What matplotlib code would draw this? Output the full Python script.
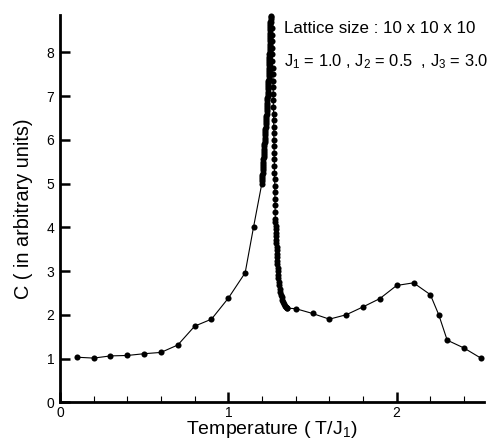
import matplotlib
matplotlib.use('Agg')
import matplotlib.pyplot as plt
from matplotlib.ticker import MultipleLocator

plt.rcParams['font.family'] = ['Liberation Sans', 'DejaVu Sans']
plt.rcParams['mathtext.default'] = 'regular'

# coarse scan below Tc
t_low = [0.1, 0.2, 0.3, 0.4, 0.5, 0.6, 0.7, 0.8, 0.9, 1.0, 1.1, 1.15]
c_low = [1.03, 1.01, 1.06, 1.07, 1.11, 1.14, 1.31, 1.74, 1.90, 2.38, 2.96, 4.01]

# fine scan, rising side of the peak
t_rise = [1.199, 1.200, 1.201, 1.201, 1.202, 1.203, 1.204, 1.205, 1.206, 1.207,
          1.208, 1.208, 1.209, 1.210, 1.211, 1.212, 1.213, 1.213, 1.214, 1.215,
          1.216, 1.217, 1.218, 1.219, 1.220, 1.220, 1.221, 1.222, 1.223, 1.224,
          1.225, 1.226, 1.227, 1.227, 1.228, 1.229, 1.230, 1.231, 1.232, 1.232,
          1.233, 1.234, 1.235, 1.235, 1.236, 1.237, 1.237, 1.238, 1.239, 1.239,
          1.240, 1.240, 1.241, 1.241, 1.242, 1.242, 1.243, 1.243, 1.244, 1.244,
          1.245, 1.245, 1.246, 1.246, 1.247, 1.247, 1.247, 1.248, 1.248, 1.249,
          1.249, 1.249, 1.250, 1.250, 1.250, 1.251, 1.251, 1.253]
c_rise = [5.00, 5.05, 5.10, 5.15, 5.20, 5.25, 5.30, 5.35, 5.40, 5.45,
          5.50, 5.55, 5.60, 5.65, 5.70, 5.75, 5.80, 5.85, 5.90, 5.95,
          6.00, 6.05, 6.10, 6.15, 6.20, 6.25, 6.30, 6.35, 6.40, 6.45,
          6.50, 6.55, 6.60, 6.65, 6.70, 6.75, 6.80, 6.85, 6.90, 6.95,
          7.00, 7.05, 7.10, 7.15, 7.20, 7.25, 7.30, 7.35, 7.40, 7.45,
          7.50, 7.55, 7.60, 7.65, 7.70, 7.75, 7.80, 7.85, 7.90, 7.95,
          8.00, 8.05, 8.10, 8.15, 8.20, 8.25, 8.30, 8.35, 8.40, 8.45,
          8.50, 8.55, 8.60, 8.65, 8.70, 8.75, 8.80, 8.82]

# fine scan, falling side of the peak
t_fall = [1.256, 1.257, 1.258, 1.259, 1.260, 1.261, 1.262, 1.263, 1.264, 1.265,
          1.266, 1.267, 1.267, 1.268, 1.269, 1.269, 1.270, 1.270, 1.271, 1.272,
          1.272, 1.273, 1.274, 1.274, 1.275, 1.276, 1.276, 1.277, 1.278, 1.278,
          1.279, 1.280, 1.281, 1.282, 1.283, 1.284, 1.285, 1.286, 1.287, 1.288,
          1.289, 1.290, 1.291, 1.292, 1.293, 1.294, 1.296, 1.298, 1.300, 1.303,
          1.306, 1.309, 1.313, 1.317, 1.321, 1.326, 1.331, 1.336, 1.341, 1.346,
          1.351]
c_fall = [8.70, 8.55, 8.40, 8.25, 8.10, 7.95, 7.80, 7.65, 7.50, 7.35,
          7.20, 7.05, 6.90, 6.75, 6.60, 6.45, 6.30, 6.15, 6.00, 5.85,
          5.70, 5.55, 5.40, 5.25, 5.10, 4.95, 4.80, 4.65, 4.50, 4.35,
          4.20, 4.12, 4.04, 3.96, 3.88, 3.80, 3.72, 3.64, 3.56, 3.48,
          3.40, 3.32, 3.24, 3.16, 3.08, 3.00, 2.92, 2.84, 2.76, 2.68,
          2.60, 2.53, 2.46, 2.40, 2.34, 2.29, 2.25, 2.21, 2.18, 2.16,
          2.15]

# coarse scan above Tc
t_high = [1.4, 1.5, 1.6, 1.7, 1.8, 1.9, 2.0, 2.1, 2.2, 2.25, 2.3, 2.4, 2.5]
c_high = [2.14, 2.03, 1.90, 2.00, 2.18, 2.37, 2.67, 2.73, 2.46, 2.00, 1.42, 1.24, 1.01]

T = t_low + t_rise + t_fall + t_high
C = c_low + c_rise + c_fall + c_high

fig = plt.figure(figsize=(4.95, 4.41), dpi=100)
ax = fig.add_axes([0.1212, 0.0878, 0.857, 0.878])

ax.plot(T, C, color='black', lw=0.8, marker='o', markersize=4.4,
        markeredgewidth=0, clip_on=False, zorder=3)

ax.set_xlim(0, 2.52)
ax.set_ylim(0, 8.85)

ax.spines['top'].set_visible(False)
ax.spines['right'].set_visible(False)
ax.spines['left'].set_linewidth(2)
ax.spines['bottom'].set_linewidth(2)

ax.xaxis.set_major_locator(MultipleLocator(1))
ax.xaxis.set_minor_locator(MultipleLocator(0.2))
ax.yaxis.set_major_locator(MultipleLocator(1))
ax.tick_params(which='major', direction='in', length=7, width=1.8, labelsize=10, pad=3)
ax.tick_params(which='minor', direction='in', length=4, width=0.8)
ax.tick_params(axis='y', pad=4)

ax.set_xlabel('Temperature ( T/J$_1$)', fontsize=14, labelpad=-1)
ax.set_ylabel('C ( in arbitrary units)', fontsize=14.3, labelpad=10)

ax.text(0.528, 0.966, 'Lattice size : 10 x 10 x 10', transform=ax.transAxes,
        fontsize=12.2, va='center', ha='left')
ax.text(0.528, 0.879, 'J$_1$ = 1.0 , J$_2$ = 0.5  , J$_3$ = 3.0', transform=ax.transAxes,
        fontsize=11.9, va='center', ha='left')

fig.savefig('out.png', dpi=100)
